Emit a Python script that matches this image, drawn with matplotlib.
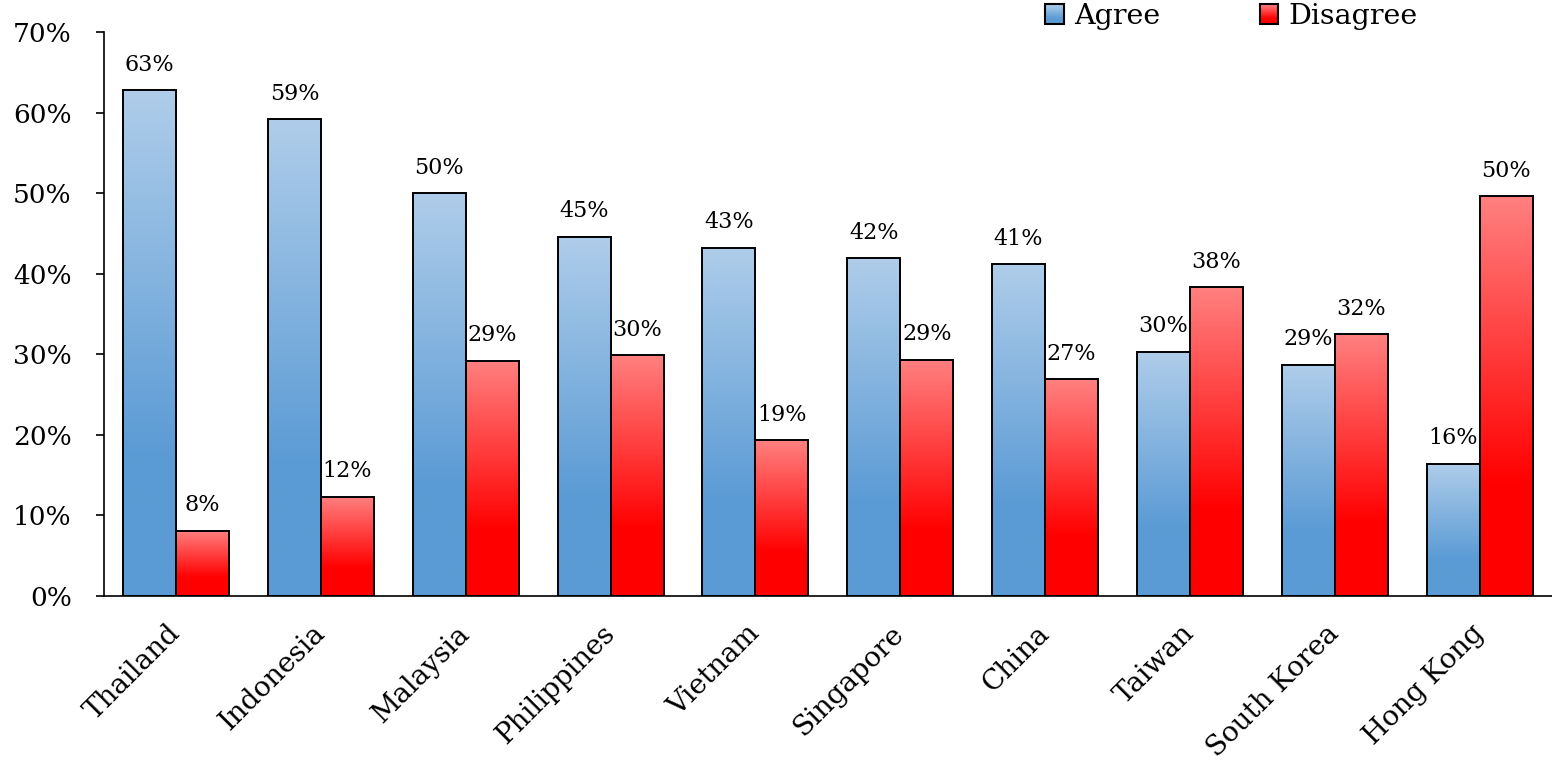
import matplotlib
matplotlib.use("Agg")
import matplotlib.pyplot as plt
import numpy as np
from matplotlib.colors import LinearSegmentedColormap
from matplotlib.patches import Rectangle, Patch
from matplotlib.legend_handler import HandlerBase
from matplotlib.ticker import FuncFormatter

countries = ['Thailand', 'Indonesia', 'Malaysia', 'Philippines', 'Vietnam',
             'Singapore', 'China', 'Taiwan', 'South Korea', 'Hong Kong']
agree = [62.8, 59.2, 50.0, 44.6, 43.2, 41.9, 41.2, 30.3, 28.7, 16.4]
disagree = [8.1, 12.3, 29.2, 29.9, 19.3, 29.3, 26.9, 38.3, 32.5, 49.6]

plt.rcParams['font.family'] = ['DejaVu Serif']

# bottom colour up to ~30% of bar height, then fades to light colour at top
cmap_agree = LinearSegmentedColormap.from_list(
    'agree', [(0, '#5b9bd5'), (0.28, '#5b9bd5'), (1, '#afcdea')])
cmap_dis = LinearSegmentedColormap.from_list(
    'dis', [(0, '#ff0000'), (0.28, '#ff0000'), (1, '#ff8080')])

grad = np.linspace(0, 1, 256).reshape(-1, 1)


def gradient_bars(ax, x, heights, width, cmap):
    bars = ax.bar(x, heights, width, facecolor='none', edgecolor='black',
                  linewidth=1.4, zorder=3)
    for b in bars:
        x0, w, h = b.get_x(), b.get_width(), b.get_height()
        im = ax.imshow(grad, extent=[x0, x0 + w, 0, h], origin='lower',
                       aspect='auto', cmap=cmap, zorder=2)
        im.set_clip_path(b)
    return bars


class GradientHandler(HandlerBase):
    def __init__(self, cmap):
        super().__init__()
        self.cmap = cmap

    def create_artists(self, legend, orig_handle, xdescent, ydescent,
                       width, height, fontsize, trans):
        arts = []
        n = 20
        for i in range(n):
            r = Rectangle((-xdescent, -ydescent + height * i / n), width, height / n + 0.3,
                          facecolor=self.cmap(i / (n - 1)), edgecolor='none',
                          transform=trans)
            arts.append(r)
        arts.append(Rectangle((-xdescent, -ydescent), width, height,
                              facecolor='none', edgecolor='black', linewidth=1.5,
                              transform=trans))
        return arts


fig = plt.figure(figsize=(15.52, 7.6), dpi=100)
ax = fig.add_axes([0.0668, 0.2158, 0.9332, 0.7421])

x = np.arange(len(countries))
w = 0.366
gradient_bars(ax, x - w / 2, agree, w, cmap_agree)
gradient_bars(ax, x + w / 2, disagree, w, cmap_dis)

for xi, a, d in zip(x, agree, disagree):
    ax.annotate(f'{a:.0f}%', (xi - w / 2, a), xytext=(0, 14), textcoords='offset points',
                ha='center', va='baseline', fontsize=16)
    ax.annotate(f'{d:.0f}%', (xi + w / 2, d), xytext=(0, 14), textcoords='offset points',
                ha='center', va='baseline', fontsize=16)

ax.set_xlim(-0.5, len(countries) - 0.5)
ax.set_ylim(0, 70)
ax.set_yticks(np.arange(0, 71, 10))
ax.yaxis.set_major_formatter(FuncFormatter(lambda v, p: f'{v:.0f}%'))
ax.tick_params(axis='y', labelsize=19, length=6, width=1.2, pad=17)
ax.set_xticks(x)
ax.set_xticklabels(countries, rotation=45, ha='right', va='center',
                   rotation_mode='anchor', fontsize=20)
ax.tick_params(axis='x', length=0, pad=24)

for s in ['top', 'right']:
    ax.spines[s].set_visible(False)
for s in ['left', 'bottom']:
    ax.spines[s].set_linewidth(1.2)
    ax.spines[s].set_zorder(4)

p_agree = Patch(label='Agree')
p_dis = Patch(label='Disagree')
fig.legend(handles=[p_agree, p_dis], labels=['Agree', 'Disagree'],
           handler_map={p_agree: GradientHandler(cmap_agree),
                        p_dis: GradientHandler(cmap_dis)},
           loc='upper left', bbox_to_anchor=(1045 / 1552, 1 - 3 / 760),
           ncol=2, frameon=False, fontsize=20.5, borderpad=0, borderaxespad=0,
           handlelength=0.65, handleheight=0.72, handletextpad=0.36,
           columnspacing=3.5)

fig.savefig('out.png', dpi=100)
